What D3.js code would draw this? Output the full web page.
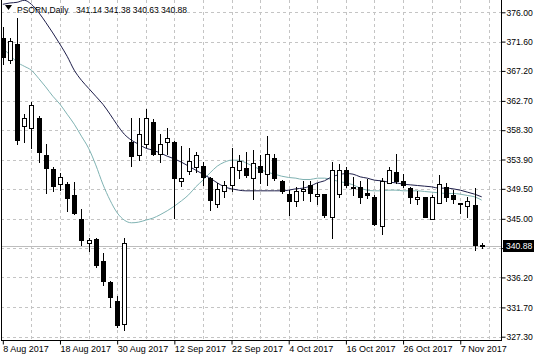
<!DOCTYPE html>
<html><head><meta charset="utf-8">
<script src="https://cdn.jsdelivr.net/npm/d3@7"></script>
<style>
html,body{margin:0;padding:0;background:#fff;}
svg{display:block;font-family:"Liberation Sans",Arial,sans-serif;}
</style></head><body><svg id="c" width="536" height="357"></svg>
<script>
const symbol = "PSORN,Daily";
const lastBar = ["341.14","341.38","340.63","340.88"];
const lastPrice = 340.88;

const dates = [
"2017-08-08","2017-08-09","2017-08-10","2017-08-11","2017-08-14","2017-08-15","2017-08-16","2017-08-17",
"2017-08-18","2017-08-21","2017-08-22","2017-08-23","2017-08-24","2017-08-25","2017-08-28","2017-08-29",
"2017-08-30","2017-08-31","2017-09-01","2017-09-05","2017-09-06","2017-09-07","2017-09-08","2017-09-11",
"2017-09-12","2017-09-13","2017-09-14","2017-09-15","2017-09-18","2017-09-19","2017-09-20","2017-09-21",
"2017-09-22","2017-09-25","2017-09-26","2017-09-27","2017-09-28","2017-09-29","2017-10-02","2017-10-03",
"2017-10-04","2017-10-05","2017-10-06","2017-10-09","2017-10-10","2017-10-11","2017-10-12","2017-10-13",
"2017-10-16","2017-10-17","2017-10-18","2017-10-19","2017-10-20","2017-10-23","2017-10-24","2017-10-25",
"2017-10-26","2017-10-27","2017-10-30","2017-10-31","2017-11-01","2017-11-02","2017-11-03","2017-11-06",
"2017-11-07","2017-11-08","2017-11-09","2017-11-10"];

const open = [372.1,368.9,371.3,359.0,358.6,360.2,354.6,352.5,350.2,350.2,348.5,344.9,341.4,341.9,338.7,335.5,
332.7,329.2,356.6,354.6,356.3,359.6,354.7,356.5,356.6,350.7,352.2,352.8,352.9,351.1,347.2,349.1,
350.0,352.3,352.7,351.1,352.9,351.8,354.2,350.7,348.7,347.6,349.1,350.1,348.4,348.7,345.2,348.7,
352.4,349.8,349.8,348.8,348.2,343.9,350.4,352.0,350.7,349.6,347.9,348.2,344.9,347.4,349.7,348.6,
347.4,346.9,347.0,341.14];
const high = [373.8,372.1,375.1,360.7,362.6,360.4,356.3,352.8,351.9,350.5,350.5,346.4,342.1,342.1,339.8,335.7,
333.4,342.1,360.2,360.1,361.5,360.0,357.8,358.6,356.7,355.9,355.7,355.0,353.6,351.3,350.3,350.7,
355.7,354.6,355.1,355.3,354.6,357.4,354.8,350.8,349.3,349.8,350.6,350.6,350.3,348.7,353.6,353.3,
352.8,351.3,350.6,350.9,348.6,351.1,352.8,354.8,351.8,349.8,349.1,348.2,348.6,351.6,350.3,349.3,
347.4,348.2,349.6,341.38];
const low = [368.2,368.4,356.2,356.6,355.6,353.6,348.9,349.1,349.3,346.1,345.7,341.1,340.1,337.7,335.1,331.7,
328.8,328.3,352.9,353.8,355.8,354.6,353.6,354.8,345.1,349.9,351.8,352.1,350.1,346.3,346.8,348.3,
349.1,351.1,351.3,347.9,350.3,350.1,350.8,348.8,345.6,346.9,347.8,347.6,347.2,345.3,342.1,348.2,
349.8,348.6,347.3,348.1,344.1,342.7,350.3,350.3,349.8,347.3,347.2,345.2,344.9,347.3,347.7,347.3,
345.8,345.2,340.3,340.63];
const close = [369.3,371.7,356.9,360.2,362.1,355.1,352.7,349.9,351.2,348.1,345.8,341.8,341.8,338.1,335.7,333.2,
329.0,341.3,354.5,357.7,360.1,354.8,356.2,357.2,351.1,351.1,353.7,354.6,351.2,347.8,349.4,350.0,
352.8,353.7,351.6,353.4,352.1,354.7,351.1,349.1,347.6,349.2,349.5,348.9,348.7,345.6,352.3,352.3,
350.1,349.6,348.2,348.5,344.2,350.6,352.4,350.7,350.0,348.2,348.2,345.2,348.3,350.2,348.3,347.9,
347.2,347.7,341.1,340.88];

// moving averages
const maSlow = [377.2,377.4,377.5,377.8,377.2,376.0,374.5,372.9,371.2,369.4,367.3,365.8,364.6,363.4,362.2,360.7,
359.1,357.7,356.8,356.2,355.6,355.3,354.9,354.4,354.0,353.5,352.9,352.3,351.7,351.1,350.4,349.8,
349.5,349.3,349.2,349.2,349.2,349.2,349.2,349.2,349.3,349.5,349.6,349.9,350.4,350.7,351.3,351.6,
351.8,351.7,351.3,351.1,350.8,350.7,350.5,350.4,350.2,350.1,350.0,349.9,349.8,349.6,349.6,349.5,
349.3,349.0,348.7,348.3];
const maFast = [370.6,369.6,368.5,367.9,367.3,366.1,364.8,363.4,362.2,360.7,359.2,357.4,355.6,353.1,350.2,347.8,
345.9,344.8,344.4,344.5,344.8,345.1,345.6,346.2,346.9,347.7,348.6,349.8,350.8,351.9,352.9,353.5,
353.8,353.8,353.4,352.9,352.4,352.0,351.7,351.4,351.2,351.1,350.9,350.9,351.1,351.1,350.9,350.6,
350.4,350.1,349.6,349.3,349.2,349.2,349.3,349.3,349.2,349.2,349.2,349.1,349.0,348.9,348.8,348.8,
348.7,348.5,348.3,347.8];

const priceTicks = [376.00,371.60,367.20,362.70,358.30,353.90,349.50,345.00,340.60,336.20,331.70,327.30];
const dateTicks = ["2017-08-08","2017-08-18","2017-08-30","2017-09-12","2017-09-22","2017-10-04","2017-10-16","2017-10-26","2017-11-07"];

const svg = d3.select("#c");
const P = {left:1, right:501, top:0, bottom:340};
const x = d3.scalePoint().domain(dates).range([2.8, 481.7]);
const y = d3.scaleLinear().domain([327.3, 376]).range([336.7, 12.3]);
const px = d => Math.round(x(d)) + 0.5;

svg.append("defs").append("clipPath").attr("id","clip")
  .append("rect").attr("x",P.left+0.5).attr("y",P.top).attr("width",P.right-P.left-0.5).attr("height",P.bottom-P.top);

// grid
const grid = svg.append("g").attr("stroke","#c4c4c4").attr("stroke-dasharray","3,3").attr("shape-rendering","crispEdges");
grid.selectAll(".h").data(priceTicks).join("line")
  .attr("x1",P.left).attr("x2",P.right)
  .attr("y1",d=>Math.round(y(d))+0.5).attr("y2",d=>Math.round(y(d))+0.5);
grid.selectAll(".v").data(dates.filter((d,i)=>i%4===0 && i>0)).join("line")
  .attr("x1",px).attr("x2",px).attr("y1",P.top).attr("y2",P.bottom);
// extra grid position beyond last bar
const step = x.step();
grid.append("line").attr("x1",Math.round(x(dates[64])+4*step)+0.5).attr("x2",Math.round(x(dates[64])+4*step)+0.5)
  .attr("y1",P.top).attr("y2",P.bottom);

// bid line
svg.append("line").attr("x1",P.left).attr("x2",P.right)
  .attr("y1",Math.round(y(lastPrice))+0.5).attr("y2",Math.round(y(lastPrice))+0.5)
  .attr("stroke","#bdbdbd").attr("shape-rendering","crispEdges");

const plot = svg.append("g").attr("clip-path","url(#clip)");

// moving averages
const line = arr => d3.line().x((d,i)=>x(dates[i])).y(d=>y(d)).curve(d3.curveMonotoneX)(arr);
plot.append("path").attr("d",line(maFast)).attr("fill","none").attr("stroke","#7fb2b2").attr("stroke-width",1);
plot.append("path").attr("d",line(maSlow)).attr("fill","none").attr("stroke","#1e1e4a").attr("stroke-width",1);

// candles
const bars = dates.map((d,i)=>({d,o:open[i],h:high[i],l:low[i],c:close[i]}));
const cg = plot.append("g").attr("shape-rendering","crispEdges");
cg.selectAll(".w").data(bars).join("line")
  .attr("x1",b=>px(b.d)).attr("x2",b=>px(b.d))
  .attr("y1",b=>Math.round(y(b.h))).attr("y2",b=>Math.round(y(b.l))+1)
  .attr("stroke","#000");
cg.selectAll(".b").data(bars).join("rect")
  .attr("x",b=>px(b.d)-2).attr("width",4)
  .attr("y",b=>Math.round(y(Math.max(b.o,b.c)))+0.5)
  .attr("height",b=>Math.max(1,Math.round(y(Math.min(b.o,b.c)))-Math.round(y(Math.max(b.o,b.c)))))
  .attr("fill",b=>b.c>=b.o?"#fff":"#000").attr("stroke","#000");

// frame
svg.append("line").attr("x1",1.5).attr("x2",1.5).attr("y1",0).attr("y2",P.bottom).attr("stroke","#000");
svg.append("line").attr("x1",P.right+0.5).attr("x2",P.right+0.5).attr("y1",0).attr("y2",P.bottom+0.5).attr("stroke","#000");
svg.append("line").attr("x1",1).attr("x2",P.right+1).attr("y1",P.bottom+0.5).attr("y2",P.bottom+0.5).attr("stroke","#000");

// right axis
const ya = svg.append("g").attr("transform",`translate(${P.right+0.5},0)`)
  .call(d3.axisRight(y).tickValues(priceTicks).tickSize(4)
    .tickFormat(d=>d===340.6?"":d3.format(".2f")(d)));
ya.select(".domain").remove();
ya.selectAll(".tick line").attr("stroke","#000");
ya.selectAll(".tick text").attr("x",5).attr("font-size","8.6px").attr("font-family","Liberation Sans, Arial, sans-serif").attr("fill","#000");

// bid label
const by = y(lastPrice);
svg.append("rect").attr("x",503).attr("y",Math.round(by)-6).attr("width",31).attr("height",12).attr("fill","#000");
svg.append("text").attr("x",506).attr("y",by).attr("dy","0.35em").attr("fill","#fff")
  .attr("font-size","8.6px").text(d3.format(".2f")(lastPrice));

// bottom axis
const fmt = d3.timeFormat("%-d %b %Y"), parse = d3.timeParse("%Y-%m-%d");
const xa = svg.append("g").attr("transform",`translate(0,${P.bottom+0.5})`)
  .call(d3.axisBottom(x).tickValues(dateTicks).tickSize(4).tickFormat(d=>fmt(parse(d))));
xa.select(".domain").remove();
xa.selectAll(".tick line").attr("stroke","#000");
xa.selectAll(".tick text").attr("text-anchor","start").attr("x",0).attr("y",5)
  .attr("font-size","9px").attr("font-family","Liberation Sans, Arial, sans-serif").attr("fill","#000");

// title
svg.append("path").attr("d","M5,5 L12,5 L8.5,10 Z").attr("fill","#000");
svg.append("text").attr("x",17).attr("y",12.5).attr("font-size","8.5px").attr("fill","#000").text(symbol);
svg.append("text").attr("x",76).attr("y",12.5).attr("font-size","8.5px").attr("fill","#000").text(lastBar.join(" "));
</script></body></html>
